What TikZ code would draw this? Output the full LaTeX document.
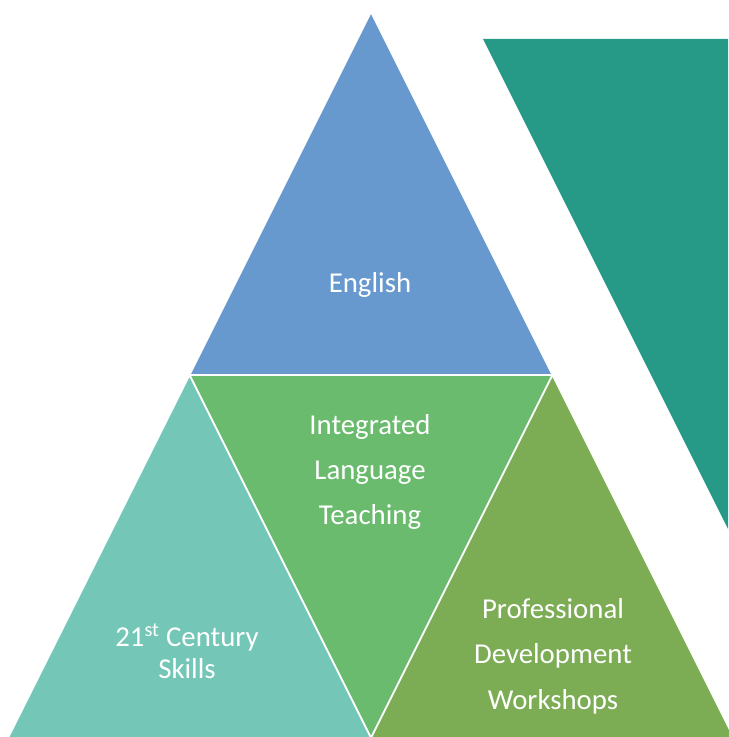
\documentclass[tikz,border=0pt]{standalone}
\usepackage{fontspec}
\setmainfont{Carlito}
\usetikzlibrary{calc}
\definecolor{topblue}{RGB}{103,153,207}
\definecolor{midgreen}{RGB}{107,187,110}
\definecolor{leftteal}{RGB}{116,198,183}
\definecolor{rightolive}{RGB}{124,172,84}
\definecolor{darkteal}{RGB}{38,153,135}
\begin{document}
\begin{tikzpicture}
            [x=0.75pt, y=-0.75pt,
            part/.style={draw=white, line width=1.2pt, line join=miter},
            every node/.style={text=white, inner sep=0pt, align=center,
                font=\fontsize{21.6}{34}\selectfont}]
            \useasboundingbox (0,0) rectangle (728,737);
            % corners of the big triangle
            \coordinate (apex) at (371,12);
            \coordinate (bl) at (8,738);
            \coordinate (br) at (734,738);
            \coordinate (ml) at ($(apex)!0.5!(bl)$);
            \coordinate (mr) at ($(apex)!0.5!(br)$);
            \coordinate (mb) at ($(bl)!0.5!(br)$);
            \fill[darkteal] (483,39) -- (728,39) -- (728,529) -- cycle;
            \filldraw[part, fill=topblue] (apex) -- (ml) -- (mr) -- cycle;
            \filldraw[part, fill=midgreen] (ml) -- (mr) -- (mb) -- cycle;
            \filldraw[part, fill=leftteal] (ml) -- (bl) -- (mb) -- cycle;
            \filldraw[part, fill=rightolive] (mr) -- (mb) -- (br) -- cycle;
            \node (english) at (370,285) {English};
            \node (ilt) at (370,472) {Integrated\\Language\\Teaching};
            \node[font=\fontsize{21.6}{24}\selectfont] (skills) at (187,651)
                {21\textsuperscript{st} Century\\Skills};
            \node (pdw) at (553,656) {Professional\\Development\\Workshops};
\end{tikzpicture}
\end{document}
